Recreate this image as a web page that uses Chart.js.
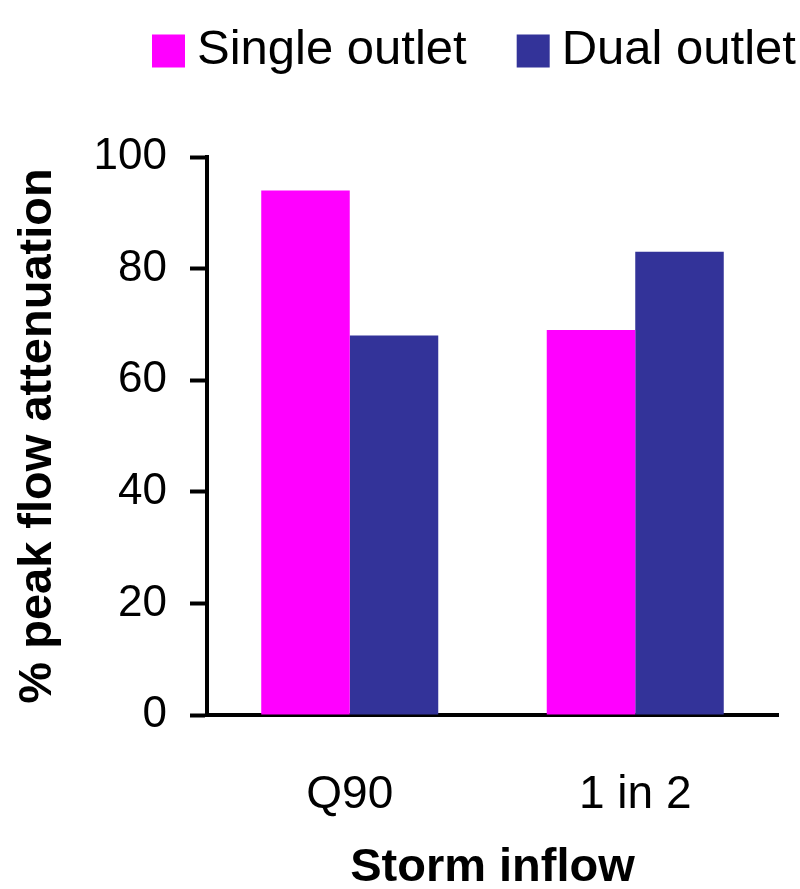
<!DOCTYPE html>
<html lang="en">
<head>
    <meta charset="UTF-8">
    <title>Peak flow attenuation</title>
    <script src="https://cdn.jsdelivr.net/npm/chart.js"></script>
    <style>
        body { margin: 0; background: #fff; }
    </style>
</head>
<body>
    <canvas id="attenuationChart" width="800" height="889"></canvas>

    <script>
        // Peak flow attenuation (%) per storm inflow
        const categories = ['Q90', '1 in 2'];
        const singleOutlet = [94, 69];
        const dualOutlet = [68, 83];
        const yTicks = [0, 20, 40, 60, 80, 100];

        const font = "'Liberation Sans', Arial, sans-serif";

        // one-row legend above the plot: square swatch, then the series name
        const legendRow = {
            id: 'legendRow',
            afterDraw(chart, args, opts) {
                const c = chart.ctx;
                c.save();
                c.font = opts.size + 'px ' + font;
                c.textBaseline = 'middle';
                let x = opts.x;
                chart.data.datasets.forEach(ds => {
                    c.fillStyle = ds.backgroundColor;
                    c.fillRect(x, opts.y - opts.box / 2, opts.box, opts.box);
                    x += opts.box + opts.gap;
                    c.fillStyle = '#000';
                    c.fillText(ds.label, x, opts.y - 1);
                    x += c.measureText(ds.label).width + opts.spacing;
                });
                c.restore();
            }
        };

        const ctx = document.getElementById('attenuationChart').getContext('2d');
        const attenuationChart = new Chart(ctx, {
            type: 'bar',
            data: {
                labels: categories,
                datasets: [{
                    label: 'Single outlet',
                    data: singleOutlet,
                    backgroundColor: '#FF00FF'
                }, {
                    label: 'Dual outlet',
                    data: dualOutlet,
                    backgroundColor: '#333399'
                }]
            },
            options: {
                responsive: false,
                animation: false,
                categoryPercentage: 0.62,
                barPercentage: 1.0,
                layout: { padding: { top: 157, left: 0, right: 22, bottom: 0 } },
                plugins: {
                    tooltip: { enabled: false },
                    legend: { display: false },
                    legendRow: { x: 152, y: 51, box: 33, gap: 12, spacing: 50, size: 49 }
                },
                scales: {
                    x: {
                        afterFit(scale) { scale.height = 174; },
                        grid: { drawOnChartArea: false, drawTicks: false },
                        border: { color: '#000', width: 4 },
                        ticks: {
                            color: '#000',
                            padding: 53,
                            font: { family: font, size: 46 }
                        },
                        title: {
                            display: true,
                            text: 'Storm inflow',
                            color: '#000',
                            font: { family: font, size: 47, weight: 'bold', lineHeight: 1.0 },
                            padding: { top: 0, bottom: -3 }
                        }
                    },
                    y: {
                        min: yTicks[0],
                        max: yTicks[yTicks.length - 1],
                        afterBuildTicks(scale) {
                            scale.ticks = yTicks.map(v => ({ value: v }));
                        },
                        afterFit(scale) { scale.width = 207; },
                        grid: {
                            drawOnChartArea: false,
                            drawTicks: true,
                            tickLength: 17,
                            tickWidth: 4,
                            tickColor: '#000'
                        },
                        border: { color: '#000', width: 4 },
                        ticks: {
                            color: '#000',
                            padding: 23,
                            font: { family: font, size: 44 }
                        },
                        title: {
                            display: true,
                            text: '% peak flow attenuation',
                            color: '#000',
                            font: { family: font, size: 47, weight: 'bold' },
                            padding: { top: 10, bottom: 0 }
                        }
                    }
                }
            },
            plugins: [legendRow]
        });
    </script>
</body>
</html>
